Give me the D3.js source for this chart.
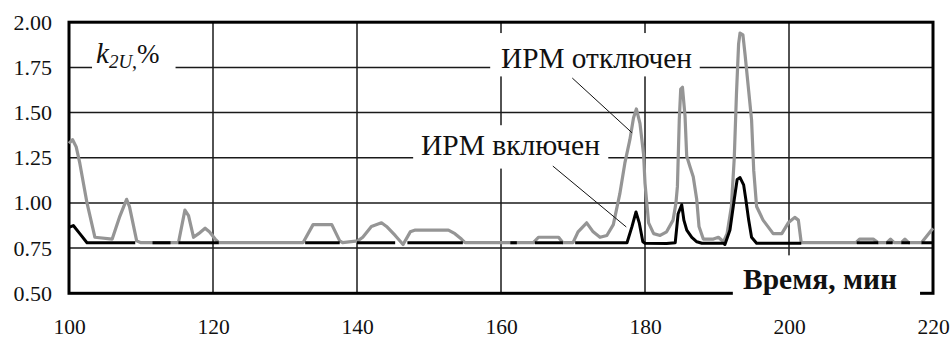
<!DOCTYPE html>
<html>
<head>
<meta charset="utf-8">
<script src="https://cdn.jsdelivr.net/npm/d3@7"></script>
<style>
  html, body { margin: 0; padding: 0; background: #fff; }
  svg { display: block; }
  svg text { font-family: "Liberation Serif", "Times New Roman", serif !important; fill: #111; }
</style>
</head>
<body>
<svg id="chart" width="952" height="338"></svg>
<script>
// Time axis (minutes) and k2U (%) values
const xTicks = [100, 120, 140, 160, 180, 200, 220];
const yTicks = [0.50, 0.75, 1.00, 1.25, 1.50, 1.75, 2.00];

// ИРМ отключен (grey)
const timeOff = [100, 100.5, 101, 101.5, 102.5, 103.6, 106, 107, 108, 108.4, 109.4, 110,
  115.2, 116.1, 116.6, 117.3, 118, 118.9, 119.5, 120.3, 120.8,
  132.5, 133.9, 136.5, 137.6, 138, 140.1, 140.8, 142, 143.4, 144.1, 145.3, 146.4, 147.4, 148.1,
  152.7, 153.6, 154.5, 155, 164.5, 165.2, 168, 168.6, 170, 170.7, 171.9, 172.8, 173.75, 174.7,
  175.6, 176.5, 177.2, 177.9, 178.4, 178.8, 179.3, 179.8, 180, 180.5, 181.2, 182.1, 183, 183.9,
  184.3, 184.5, 184.76, 184.96, 185.2, 185.56, 185.79, 186.25, 186.7, 187.18, 187.5, 188.1,
  189.5, 190.2, 190.9, 191.4, 192, 192.4, 192.7, 193, 193.2, 193.6, 193.9, 194.4, 194.8, 195.1,
  195.5, 196.4, 197.8, 199, 199.9, 200.8, 201.3, 201.7, 209.3, 209.8, 211.7, 212.4, 213.6,
  214.1, 214.6, 215.6, 216.1, 216.6, 218.4, 220];
const k2uOff = [1.33, 1.35, 1.31, 1.22, 1.00, 0.81, 0.80, 0.92, 1.02, 0.98, 0.79, 0.78,
  0.78, 0.96, 0.93, 0.81, 0.83, 0.86, 0.84, 0.80, 0.78,
  0.78, 0.88, 0.88, 0.79, 0.78, 0.79, 0.81, 0.87, 0.89, 0.87, 0.82, 0.77, 0.84, 0.85,
  0.85, 0.83, 0.80, 0.78, 0.78, 0.81, 0.81, 0.78, 0.78, 0.84, 0.89, 0.84, 0.81, 0.82,
  0.88, 1.05, 1.22, 1.35, 1.47, 1.52, 1.44, 1.27, 1.11, 0.89, 0.83, 0.82, 0.84, 0.905,
  1.00, 1.09, 1.46, 1.63, 1.64, 1.48, 1.26, 1.20, 1.145, 1.02, 0.87, 0.80,
  0.80, 0.81, 0.785, 0.83, 0.98, 1.25, 1.60, 1.88, 1.94, 1.93, 1.82, 1.62, 1.46, 1.18,
  0.98, 0.905, 0.83, 0.83, 0.89, 0.92, 0.905, 0.78, 0.78, 0.80, 0.80, 0.78, 0.78,
  0.80, 0.78, 0.78, 0.80, 0.78, 0.78, 0.86];

// ИРМ включен (black); null marks a break in the record
const timeOn = [100, 100.6, 101.5, 102.5, 109.2, null, 111.6, 114.1, null, 115.2, 120.8, null,
  132.8, 137.6, null, 140, 145.3, null, 147, 154.7, null, 161.3, 162.2, null, 164.7, 168.6, null,
  170.3, 177.5, 178.2, 178.75, 179.2, 179.7, 180, 183, 184.2, 184.6, 185.1, 185.4, 185.8, 186.5,
  187.2, 187.9, 190.9, 191.1, 191.8, 192.4, 192.8, 193.2, 193.7, 194.0, 194.4, 194.8, 195.5,
  201.7, null, 209.4, 212.4, null, 213.5, 214.4, null, 215.6, 216.8, null, 218.4, 220];
const k2uOn = [0.865, 0.875, 0.83, 0.78, 0.78, null, 0.78, 0.78, null, 0.78, 0.78, null,
  0.78, 0.78, null, 0.78, 0.78, null, 0.78, 0.78, null, 0.78, 0.78, null, 0.78, 0.78, null,
  0.78, 0.78, 0.87, 0.95, 0.89, 0.785, 0.777, 0.775, 0.78, 0.94, 0.99, 0.905, 0.85, 0.81,
  0.785, 0.777, 0.777, 0.77, 0.85, 1.02, 1.13, 1.14, 1.10, 1.02, 0.905, 0.81, 0.777,
  0.777, null, 0.78, 0.78, null, 0.78, 0.78, null, 0.78, 0.78, null, 0.78, 0.78];

const plot = { left: 69, right: 933, top: 22.2, bottom: 293.3 };
const serif = '"Liberation Serif", "Times New Roman", serif';

const svg = d3.select("#chart");
const x = d3.scaleLinear().domain([100, 220]).range([plot.left, plot.right]);
const y = d3.scaleLinear().domain([0.5, 2.0]).range([plot.bottom, plot.top]);

// grid
const grid = svg.append("g").attr("stroke", "#1a1a1a").attr("stroke-width", 1.5);
grid.selectAll("line.h").data(yTicks.slice(1, -1)).join("line").attr("class", "h")
  .attr("x1", plot.left).attr("x2", plot.right)
  .attr("y1", d => y(d)).attr("y2", d => y(d));
grid.selectAll("line.v").data(xTicks.slice(1, -1)).join("line").attr("class", "v")
  .attr("y1", plot.top).attr("y2", plot.bottom)
  .attr("x1", d => x(d)).attr("x2", d => x(d));

// frame
svg.append("rect")
  .attr("x", plot.left).attr("y", plot.top)
  .attr("width", plot.right - plot.left).attr("height", plot.bottom - plot.top)
  .attr("fill", "none").attr("stroke", "#000").attr("stroke-width", 3);

// axes (labels only)
const yAxis = d3.axisLeft(y).tickValues(yTicks).tickFormat(d3.format(".2f")).tickSize(0).tickPadding(17);
svg.append("g").attr("transform", `translate(${plot.left},0)`).call(yAxis)
  .attr("font-family", null)
  .call(g => g.select(".domain").remove())
  .selectAll("text").attr("font-size", 22).style("font-family", serif).attr("fill", "#111");

const xAxis = d3.axisBottom(x).tickValues(xTicks).tickFormat(d3.format("d")).tickSize(0).tickPadding(25);
svg.append("g").attr("transform", `translate(0,${plot.bottom})`).call(xAxis)
  .attr("font-family", null)
  .call(g => g.select(".domain").remove())
  .selectAll("text").attr("font-size", 21.5).style("font-family", serif).attr("fill", "#111");

// white backing boxes under the labels
const boxes = [
  { t0: 103.2, t1: 114.8, v0: 1.62, v1: 1.88 },
  { t0: 158.5, t1: 187.6, v0: 1.70, v1: 1.94 },
  { t0: 147.8, t1: 174.9, v0: 1.19, v1: 1.43 },
  { t0: 192.2, t1: 218.2, v0: 0.47, v1: 0.71 }
];
svg.append("g").selectAll("rect").data(boxes).join("rect")
  .attr("x", d => x(d.t0)).attr("width", d => x(d.t1) - x(d.t0))
  .attr("y", d => y(d.v1)).attr("height", d => y(d.v0) - y(d.v1))
  .attr("fill", "#fff");

// series
const line = d3.line()
  .defined(d => d[1] != null)
  .x(d => x(d[0])).y(d => y(d[1]));

svg.append("path")
  .datum(timeOff.map((t, i) => [t, k2uOff[i]]))
  .attr("d", line).attr("fill", "none")
  .attr("stroke", "#959595").attr("stroke-width", 3.2).attr("stroke-linejoin", "round");

svg.append("path")
  .datum(timeOn.map((t, i) => [t, k2uOn[i]]))
  .attr("d", line).attr("fill", "none")
  .attr("stroke", "#000").attr("stroke-width", 3).attr("stroke-linejoin", "round");

// leader lines
const leaders = [
  { t0: 169.9, v0: 1.691, t1: 178.2, v1: 1.388 },
  { t0: 167.2, v0: 1.204, t1: 177.4, v1: 0.867 }
];
svg.append("g").attr("stroke", "#111").attr("stroke-width", 1)
  .selectAll("line").data(leaders).join("line")
  .attr("x1", d => x(d.t0)).attr("y1", d => y(d.v0))
  .attr("x2", d => x(d.t1)).attr("y2", d => y(d.v1));

// labels
svg.append("text").attr("x", 501).attr("y", 68).style("font-family", serif)
  .attr("font-size", 29).attr("textLength", 191).attr("lengthAdjust", "spacingAndGlyphs")
  .text("ИРМ отключен");
svg.append("text").attr("x", 421).attr("y", 155).style("font-family", serif)
  .attr("font-size", 29).attr("textLength", 179).attr("lengthAdjust", "spacingAndGlyphs")
  .text("ИРМ включен");
svg.append("text").attr("x", 743).attr("y", 289).style("font-family", serif)
  .attr("font-size", 29).attr("font-weight", "bold")
  .attr("textLength", 154).attr("lengthAdjust", "spacingAndGlyphs")
  .text("Время, мин");

const kLabel = svg.append("text").attr("x", 96).attr("y", 63).style("font-family", serif);
kLabel.append("tspan").attr("font-size", 29).attr("font-style", "italic").text("k");
kLabel.append("tspan").attr("font-size", 19).attr("font-style", "italic").attr("dy", 5).text("2U");
kLabel.append("tspan").attr("font-size", 20).text(",");
kLabel.append("tspan").attr("font-size", 27).attr("dy", -5).text("%");
</script>
</body>
</html>
